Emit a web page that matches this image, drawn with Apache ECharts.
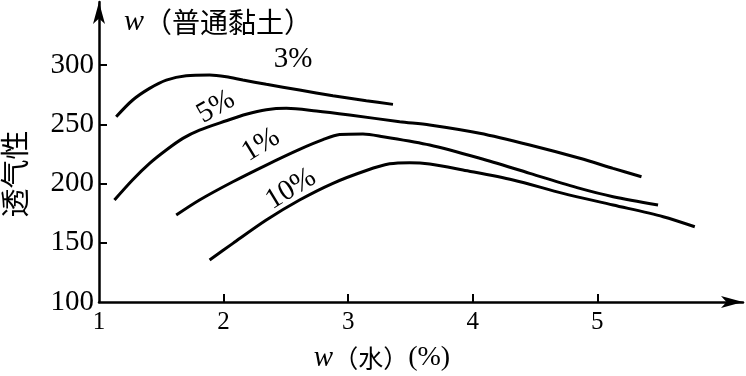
<!DOCTYPE html>
<html><head><meta charset="utf-8">
<script src="https://cdn.jsdelivr.net/npm/echarts@6/dist/echarts.min.js"></script>
<style>html,body{margin:0;padding:0;background:#fff}#c{width:746px;height:376px}</style>
</head><body><div id="c"></div>
<script>
// water content w(水) (%) and air permeability for each clay content
const xTicks = [1, 2, 3, 4, 5];
const yTicks = [100, 150, 200, 250, 300];

const clay3X = [1.138,1.271,1.406,1.540,1.700,1.888,2.022,2.155,2.343,2.610,2.878,3.146,3.360];
const clay3Y = [256.4,270.5,280.3,287.3,291.0,291.6,290.1,287.3,283.7,278.9,274.1,269.9,266.8];

const clay5X = [1.124,1.269,1.406,1.540,1.673,1.807,2.022,2.182,2.343,2.504,2.745,3.012,3.414,3.655,4.056,4.458,4.860,5.127,5.355];
const clay5Y = [186.1,203.0,217.0,228.3,238.1,245.1,253.0,258.5,262.3,263.5,261.2,257.8,252.2,249.4,242.4,232.5,221.3,212.8,205.7];

const clay1X = [1.620,1.807,2.075,2.343,2.610,2.798,2.932,3.119,3.280,3.655,4.056,4.458,4.860,5.127,5.488];
const clay1Y = [173.4,186.1,201.5,215.6,228.8,237.0,241.3,241.8,239.5,232.5,221.3,208.6,195.9,188.9,181.9];

const clay10X = [1.888,2.075,2.343,2.610,2.878,3.146,3.333,3.494,3.655,3.922,4.324,4.725,5.127,5.529,5.783];
const clay10Y = [135.4,149.5,169.2,186.1,200.2,211.0,216.6,217.6,216.5,211.4,203.0,191.7,181.9,172.0,163.5];

const seriesNames = ['3%', '5%', '1%', '10%'];
const seriesX = [clay3X, clay5X, clay1X, clay10X];
const seriesY = [clay3Y, clay5Y, clay1Y, clay10Y];

const serif = '"Liberation Serif","DejaVu Serif",serif';
const cjk = '"Noto Sans CJK SC",sans-serif';

const chart = echarts.init(document.getElementById('c'), null, {renderer: 'canvas'});
chart.setOption({
  animation: false,
  backgroundColor: '#fff',
  grid: {left: 99, right: 3, top: 2, bottom: 74},
  xAxis: {
    type: 'value', min: 1, max: 6.17, interval: 1,
    splitLine: {show: false},
    axisLine: {lineStyle: {color: '#000', width: 2.5}, symbol: ['none', 'arrow'], symbolSize: [9, 22]},
    axisTick: {inside: true, length: 8, lineStyle: {color: '#000', width: 2}, customValues: [2, 3, 4, 5]},
    axisLabel: {color: '#000', fontFamily: serif, fontSize: 25, margin: 8, customValues: xTicks}
  },
  yAxis: {
    type: 'value', min: 100, max: 353.2, interval: 50,
    splitLine: {show: false},
    axisLine: {lineStyle: {color: '#000', width: 2.5}, symbol: ['none', 'arrow'], symbolSize: [9, 22]},
    axisTick: {inside: true, length: 8, lineStyle: {color: '#000', width: 2}, customValues: [150, 200, 250, 300]},
    axisLabel: {color: '#000', fontFamily: serif, fontSize: 29, margin: 5, customValues: yTicks}
  },
  series: seriesNames.map((n, i) => ({
    name: n, type: 'line', smooth: 0.3, symbol: 'none',
    lineStyle: {color: '#000', width: 3},
    data: seriesX[i].map((x, j) => [x, seriesY[i][j]])
  })),
  graphic: [
    {type: 'text', left: 124, top: 7, style: {rich: {
      w: {fontFamily: serif, fontStyle: 'italic', fontSize: 30, fill: '#000'},
      c: {fontFamily: cjk, fontSize: 28, fill: '#000'}
    }, text: '{w|w}{c|（普通黏土）}'}},
    {type: 'text', x: 293, y: 59, style: {text: '3%', font: '29px ' + serif, fill: '#000', align: 'center', verticalAlign: 'middle'}},
    {type: 'text', x: 216, y: 107, rotation: 0.52, style: {text: '5%', font: '29px ' + serif, fill: '#000', align: 'center', verticalAlign: 'middle'}},
    {type: 'text', x: 261, y: 145, rotation: 0.55, style: {text: '1%', font: '29px ' + serif, fill: '#000', align: 'center', verticalAlign: 'middle'}},
    {type: 'text', x: 291, y: 189, rotation: 0.55, style: {text: '10%', font: '29px ' + serif, fill: '#000', align: 'center', verticalAlign: 'middle'}},
    {type: 'text', x: 15, y: 174, rotation: Math.PI / 2, style: {text: '透气性', font: '29px ' + cjk, fill: '#000', align: 'center', verticalAlign: 'middle'}},
    {type: 'text', x: 382, y: 358, style: {rich: {
      w: {fontFamily: serif, fontStyle: 'italic', fontSize: 29, fill: '#000'},
      c: {fontFamily: cjk, fontSize: 25, fill: '#000'},
      p: {fontFamily: serif, fontSize: 28, fill: '#000'}
    }, text: '{w|w}{c|（水）}{p|(%)}', align: 'center', verticalAlign: 'middle'}}
  ]
});
</script></body></html>
